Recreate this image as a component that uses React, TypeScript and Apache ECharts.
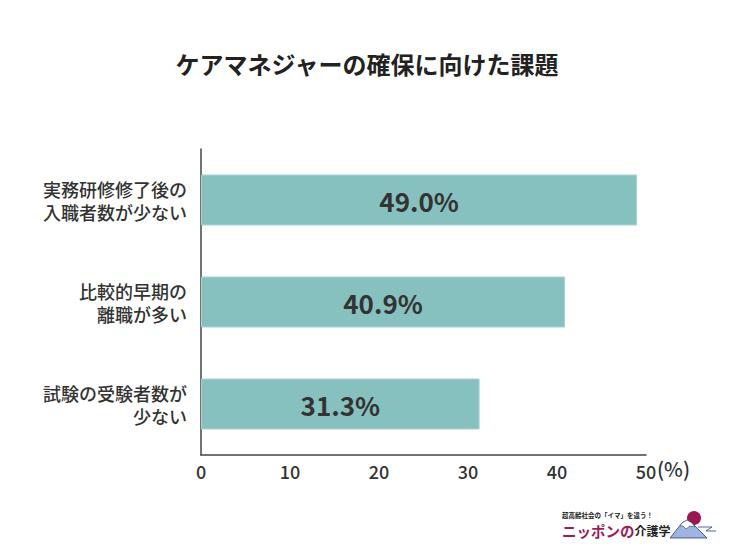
import React, { useEffect, useRef } from "react";
import * as echarts from "echarts";

const categories = ["実務研修修了後の\n入職者数が少ない", "比較的早期の\n離職が多い", "試験の受験者数が\n少ない"];
const values = [49.0, 40.9, 31.3];
const title = "ケアマネジャーの確保に向けた課題";

const FONT = "'Noto Sans CJK JP', 'Noto Sans', sans-serif";

export default function App() {
  const ref = useRef<HTMLDivElement>(null);
  useEffect(() => {
    if (!ref.current) return;
    const chart = echarts.init(ref.current, null, { renderer: "svg" });
    chart.setOption({
      animation: false,
      backgroundColor: "#ffffff",
      textStyle: { fontFamily: FONT },
      title: {
        text: title,
        left: "center",
        top: 46,
        textStyle: { fontSize: 24, fontWeight: "bold", color: "#222", fontFamily: FONT },
      },
      grid: { left: 201, right: 88, top: 149, bottom: 99 },
      xAxis: {
        type: "value",
        min: 0,
        max: 50,
        interval: 10,
        splitLine: { show: false },
        axisTick: { show: false },
        axisLine: { show: true, lineStyle: { color: "#444", width: 1.5 } },
        axisLabel: { fontSize: 18, color: "#333", margin: 7, fontFamily: FONT, fontWeight: 500 },
      },
      yAxis: {
        type: "category",
        inverse: true,
        data: categories,
        axisTick: { show: false },
        axisLine: { show: true, lineStyle: { color: "#444", width: 1.5 } },
        axisLabel: {
          fontSize: 18,
          lineHeight: 23,
          color: "#333",
          margin: 14,
          align: "right",
          fontFamily: FONT,
          fontWeight: 500,
        },
      },
      series: [
        {
          type: "bar",
          data: values,
          barWidth: "50%",
          itemStyle: { color: "#87c1bf", borderColor: "#a6d2d0", borderWidth: 1 },
          label: {
            show: true,
            position: "inside",
            formatter: (p: any) => p.value.toFixed(1) + "%",
            fontSize: 26,
            fontWeight: "bold",
            color: "#333",
            fontFamily: FONT,
          },
        },
      ],
      graphic: [
        {
          type: "text",
          left: 657,
          top: 458,
          style: { text: "(%)", fontSize: 20, fill: "#333", fontFamily: FONT, fontWeight: 500 },
        },
        {
          type: "text",
          left: 562,
          top: 512,
          style: { text: "超高齢社会の「イマ」を違う！", fontSize: 6.5, fontWeight: "bold", fill: "#222", fontFamily: FONT },
        },
        {
          type: "text",
          left: 562,
          top: 523,
          style: {
            text: "{a|ニッポンの}{b|介護学}",
            rich: {
              a: { fontSize: 14.5, fontWeight: "bold", fill: "#9b1b55", fontFamily: FONT },
              b: { fontSize: 12, fontWeight: "bold", fill: "#222", fontFamily: FONT },
            },
          },
        },
        {
          type: "circle",
          shape: { cx: 694, cy: 518, r: 7 },
          style: { fill: "#9c1750" },
        },
        {
          type: "polygon",
          shape: { points: [[670, 538], [682, 523], [687, 520], [692, 523], [707, 538]] },
          style: { fill: "#9fb4e3", stroke: "#2b3f7a", lineWidth: 0.8 },
        },
        {
          type: "polygon",
          shape: { points: [[680, 526], [682, 523], [687, 520], [692, 523], [695, 527], [690, 526], [686, 529], [683, 526]] },
          style: { fill: "#ffffff", stroke: "#2b3f7a", lineWidth: 0.6 },
        },
        {
          type: "polyline",
          shape: { points: [[698, 527], [712, 527], [706, 531], [716, 531]] },
          style: { stroke: "#2b3f7a", lineWidth: 0.8, fill: "none" },
        },
      ],
    });
    return () => chart.dispose();
  }, []);
  return <div ref={ref} style={{ width: 734, height: 554, position: "absolute", left: 0, top: 0 }} />;
}
